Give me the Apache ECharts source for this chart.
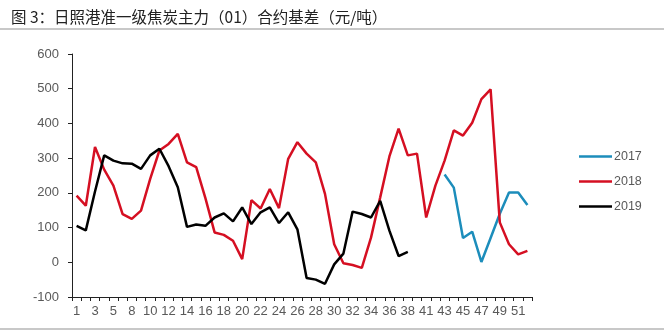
<!DOCTYPE html>
<html>
<head>
<meta charset="utf-8">
<script src="https://cdn.jsdelivr.net/npm/echarts@6/dist/echarts.min.js"></script>
<style>
html,body{margin:0;padding:0;background:#fff;}
#c{width:664px;height:336px;}
</style>
</head>
<body>
<div id="c"></div>
<script>
var titleText = '图 3：日照港准一级焦炭主力（01）合约基差（元/吨）';
var categories = ['1','2','3','4','5','6','8','9','10','11','12','13','14','15','16','17','18','19','20','21','22','23','24','25','26','27','28','29','30','31','32','33','34','35','36','37','38','39','41','42','43','44','45','46','47','48','49','50','51','52'];
var seriesNames = ['2017','2018','2019'];
var data2017 = [null,null,null,null,null,null,null,null,null,null,null,null,null,null,null,null,null,null,null,null,null,null,null,null,null,null,null,null,null,null,null,null,null,null,null,null,null,null,null,null,253,215,70,88,1,70,140,201,201,165];
var data2018 = [192,163,332,267,221,139,125,149,240,322,341,370,288,274,185,86,79,62,9,179,155,211,156,298,346,313,288,197,52,-3,-8,-16,71,187,305,385,308,313,129,221,293,380,365,402,470,498,115,52,23,33];
var data2019 = [105,92,204,308,293,285,284,269,308,327,277,216,102,109,105,129,141,118,158,110,144,158,113,144,95,-45,-50,-62,-6,25,146,139,129,177,91,18,30];
var yTicks = {min:-100, max:600, step:100};

var chart = echarts.init(document.getElementById('c'), null, {renderer:'canvas'});
var colors = ['#1c8dbb','#d50f22','#000000'];
function mk(name, data, color){
  return {
    name:name, type:'line', data:data, symbol:'none', connectNulls:false,
    lineStyle:{color:color, width:2.5}, itemStyle:{color:color},
    animation:false
  };
}
chart.setOption({
  backgroundColor:'#ffffff',
  animation:false,
  title:{
    text:titleText, left:6, top:4,
    textStyle:{fontFamily:'Noto Sans CJK SC', fontSize:15.5, fontWeight:'normal', color:'#222'}
  },
  graphic:[
    {type:'rect', shape:{x:0,y:28,width:664,height:2}, style:{fill:'#c8c8c8'}},
    {type:'rect', shape:{x:0,y:328,width:664,height:2}, style:{fill:'#c8c8c8'}}
  ],
  legend:{
    orient:'vertical', left:574, top:145, icon:'rect',
    itemWidth:33, itemHeight:2.5, itemGap:12,
    textStyle:{fontFamily:'Liberation Sans', fontSize:12.5, color:'#595959', padding:[0,0,0,-3]},
    data:seriesNames
  },
  grid:{left:72, right:132, top:54, bottom:39, containLabel:false},
  xAxis:{
    type:'category', data:categories, boundaryGap:true,
    axisLine:{onZero:false, lineStyle:{color:'#222', width:1}},
    axisTick:{show:true, interval:0, length:4, lineStyle:{color:'#222'}},
    axisLabel:{interval:1, margin:8, fontFamily:'Liberation Sans', fontSize:13, color:'#595959'},
    splitLine:{show:false}
  },
  yAxis:{
    type:'value', min:yTicks.min, max:yTicks.max, interval:yTicks.step,
    axisLine:{show:true, lineStyle:{color:'#222', width:1}},
    axisTick:{show:true, length:4, lineStyle:{color:'#222'}},
    axisLabel:{margin:13, fontFamily:'Liberation Sans', fontSize:13, color:'#595959'},
    splitLine:{show:false}
  },
  series:[
    mk(seriesNames[0], data2017, colors[0]),
    mk(seriesNames[1], data2018, colors[1]),
    mk(seriesNames[2], data2019, colors[2])
  ]
});
</script>
</body>
</html>
